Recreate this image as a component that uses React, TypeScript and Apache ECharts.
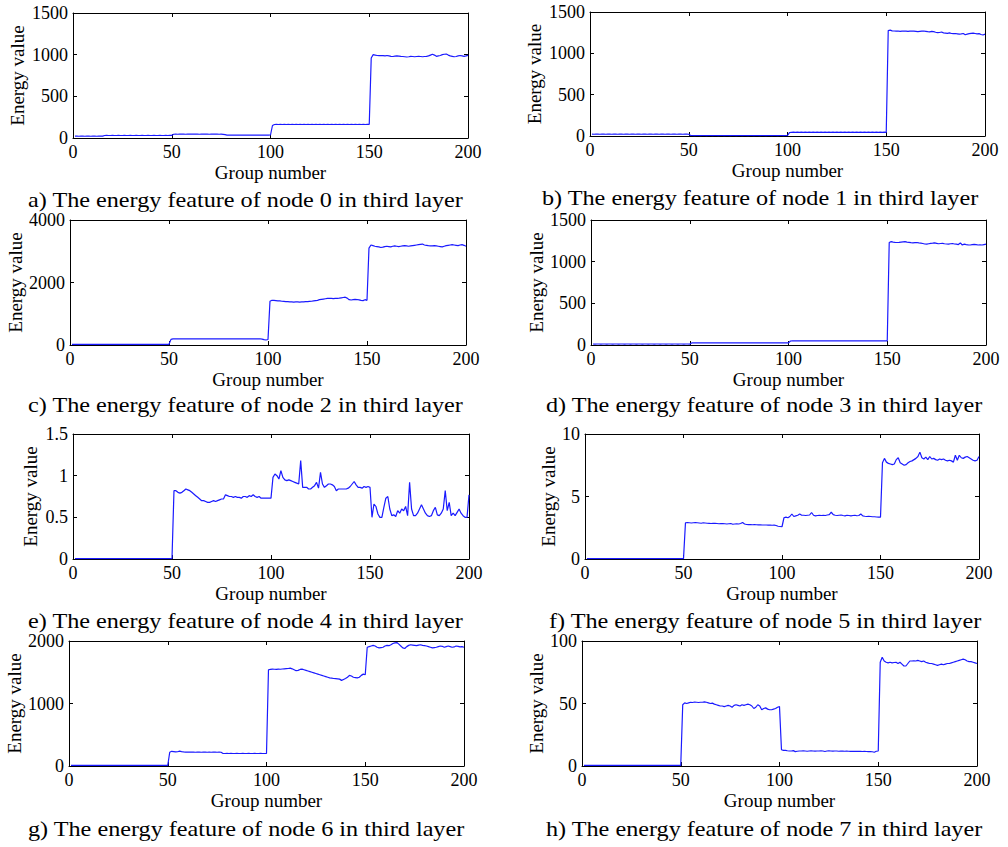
import React, { useEffect, useRef } from "react";
import * as echarts from "echarts";

const captions = [
  "a) The energy feature of node 0 in third layer",
  "b) The energy feature of node 1 in third layer",
  "c) The energy feature of node 2 in third layer",
  "d) The energy feature of node 3 in third layer",
  "e) The energy feature of node 4 in third layer",
  "f) The energy feature of node 5 in third layer",
  "g) The energy feature of node 6 in third layer",
  "h) The energy feature of node 7 in third layer",
];

const yMax = [1500, 1500, 4000, 1500, 1.5, 10, 2000, 100];
const yStep = [500, 500, 2000, 500, 0.5, 5, 1000, 50];

const node0 = [
  22,22,21,22,22,21,22,22,21,22,
  22,21,22,22,22,30,31,30,30,31,
  30,30,31,30,30,31,30,30,31,30,
  30,31,30,30,31,30,30,31,30,30,
  31,30,30,31,30,30,31,30,31,32,
  45,46,45,46,47,46,45,46,47,46,
  46,47,46,45,46,47,46,46,45,46,
  46,47,46,45,46,44,40,35,35,34,
  35,35,34,35,35,34,35,35,34,35,
  35,34,35,35,34,35,35,34,35,36,
  150,162,163,162,163,162,163,162,163,162,
  163,162,163,162,163,162,163,162,163,162,
  163,162,163,162,163,162,163,162,163,162,
  163,162,163,162,163,162,163,162,163,162,
  163,162,163,162,163,162,163,162,163,164,
  960,1000,995,990,988,990,988,985,990,985,
  980,978,982,985,983,980,978,975,972,975,
  980,978,975,978,980,978,975,978,980,985,
  995,1005,995,980,985,990,1000,1005,1008,995,
  985,980,975,978,985,990,985,980,985,992,
];

const node1 = [
  22,21,22,22,21,22,22,21,22,22,
  21,22,22,21,22,22,21,22,22,21,
  22,22,21,22,22,21,22,22,21,22,
  22,21,22,22,21,22,22,21,22,22,
  21,22,22,21,22,22,21,22,22,21,
  6,6,5,6,6,5,6,6,5,6,
  6,5,6,6,5,6,6,5,6,6,
  5,6,6,5,6,6,5,6,6,5,
  6,6,5,6,6,5,6,6,5,6,
  6,5,6,6,5,6,6,5,6,6,
  40,45,46,45,46,45,46,45,46,45,
  46,45,46,45,46,45,46,45,46,45,
  46,45,46,45,46,45,46,45,46,45,
  46,45,46,45,46,45,46,45,46,45,
  46,45,46,45,46,45,46,45,46,45,
  1275,1280,1272,1270,1268,1270,1266,1268,1270,1268,
  1265,1268,1270,1268,1265,1262,1265,1268,1270,1266,
  1262,1260,1265,1262,1255,1250,1252,1258,1248,1245,
  1242,1248,1240,1238,1240,1236,1232,1235,1240,1225,
  1232,1238,1242,1245,1240,1235,1238,1228,1222,1232,
];

const node2 = [
  22,21,22,22,21,22,22,21,22,22,
  21,22,22,21,22,22,21,22,22,21,
  22,22,21,22,22,21,22,22,21,22,
  22,21,22,22,21,22,22,21,22,22,
  21,22,22,21,22,22,21,22,22,21,
  180,195,198,196,197,198,196,197,198,196,
  197,198,196,197,198,196,197,198,196,197,
  198,196,197,198,196,197,198,196,197,198,
  196,197,198,196,197,198,196,197,198,196,
  197,198,196,197,198,200,190,170,160,175,
  1400,1430,1425,1420,1415,1410,1400,1395,1390,1385,
  1380,1378,1375,1378,1380,1375,1378,1380,1385,1390,
  1395,1400,1410,1420,1430,1450,1460,1470,1480,1490,
  1495,1490,1485,1490,1495,1500,1510,1520,1530,1500,
  1450,1440,1450,1460,1455,1445,1430,1420,1450,1430,
  3100,3200,3180,3160,3150,3140,3120,3130,3150,3160,
  3150,3140,3160,3170,3160,3150,3160,3170,3180,3170,
  3160,3170,3180,3190,3200,3210,3220,3230,3200,3190,
  3180,3175,3170,3180,3170,3160,3150,3140,3160,3180,
  3190,3200,3210,3200,3190,3180,3200,3210,3190,3160,
];

const node3 = [
  12,11,12,12,11,12,12,11,12,12,
  11,12,12,11,12,12,11,12,12,11,
  12,12,11,12,12,11,12,12,11,12,
  12,11,12,12,11,12,12,11,12,12,
  11,12,12,11,12,12,11,12,12,11,
  25,26,25,26,25,26,25,26,25,26,
  25,26,25,26,25,26,25,26,25,26,
  25,26,25,26,25,26,25,26,25,26,
  25,26,25,26,25,26,25,26,25,26,
  25,26,25,26,25,26,25,26,25,26,
  48,50,51,50,51,50,51,50,51,50,
  51,50,51,50,51,50,51,50,51,50,
  51,50,51,50,51,50,51,50,51,50,
  51,50,51,50,51,50,51,50,51,50,
  51,50,51,50,51,50,51,50,51,50,
  1230,1240,1235,1232,1230,1232,1235,1238,1240,1235,
  1232,1228,1225,1228,1230,1225,1222,1218,1212,1210,
  1215,1220,1222,1225,1220,1215,1218,1220,1215,1212,
  1210,1215,1218,1212,1210,1205,1225,1200,1210,1205,
  1202,1200,1205,1208,1205,1200,1202,1200,1205,1210,
];

const node4 = [
  0.005,0.005,0.005,0.005,0.005,0.005,0.005,0.005,0.005,0.005,
  0.005,0.005,0.005,0.005,0.005,0.005,0.005,0.005,0.005,0.005,
  0.005,0.005,0.005,0.005,0.005,0.005,0.005,0.005,0.005,0.005,
  0.005,0.005,0.005,0.005,0.005,0.005,0.005,0.005,0.005,0.005,
  0.005,0.005,0.005,0.005,0.005,0.005,0.005,0.005,0.005,0.005,
  0.82,0.82,0.80,0.79,0.80,0.82,0.84,0.83,0.82,0.80,
  0.78,0.76,0.74,0.72,0.70,0.70,0.69,0.68,0.68,0.69,
  0.70,0.69,0.70,0.71,0.72,0.72,0.77,0.76,0.75,0.75,
  0.74,0.75,0.74,0.74,0.73,0.75,0.75,0.74,0.76,0.75,
  0.77,0.75,0.74,0.75,0.73,0.73,0.73,0.73,0.73,0.73,
  0.98,1.02,1.00,0.96,1.06,0.98,0.95,0.94,0.95,0.94,
  0.93,0.92,0.91,0.90,1.18,0.86,0.86,0.86,0.84,0.84,
  0.86,0.88,0.92,0.85,1.04,0.90,0.86,0.88,0.90,0.90,
  0.89,0.87,0.82,0.84,0.84,0.84,0.84,0.84,0.85,0.87,
  0.90,0.93,0.89,0.86,0.86,0.85,0.87,0.86,0.87,0.86,
  0.50,0.66,0.63,0.54,0.50,0.50,0.62,0.73,0.75,0.60,
  0.52,0.53,0.51,0.58,0.55,0.60,0.58,0.63,0.52,0.92,
  0.60,0.52,0.52,0.55,0.60,0.65,0.60,0.55,0.52,0.51,
  0.52,0.58,0.62,0.53,0.52,0.55,0.60,0.82,0.58,0.68,
  0.52,0.55,0.52,0.56,0.60,0.55,0.52,0.50,0.50,0.77,
];

const node5 = [
  0.03,0.03,0.03,0.03,0.03,0.03,0.03,0.03,0.03,0.03,
  0.03,0.03,0.03,0.03,0.03,0.03,0.03,0.03,0.03,0.03,
  0.03,0.03,0.03,0.03,0.03,0.03,0.03,0.03,0.03,0.03,
  0.03,0.03,0.03,0.03,0.03,0.03,0.03,0.03,0.03,0.03,
  0.03,0.03,0.03,0.03,0.03,0.03,0.03,0.03,0.03,0.03,
  2.90,2.92,2.90,2.88,2.90,2.92,2.90,2.88,2.86,2.90,
  2.88,2.86,2.85,2.84,2.85,2.86,2.84,2.82,2.84,2.83,
  2.82,2.80,2.82,2.84,2.78,2.80,2.82,2.80,2.84,2.92,
  2.80,2.76,2.75,2.75,2.74,2.75,2.74,2.73,2.74,2.72,
  2.72,2.72,2.71,2.72,2.70,2.71,2.68,2.62,2.60,2.58,
  3.30,3.35,3.30,3.40,3.60,3.40,3.45,3.50,3.60,3.50,
  3.50,3.48,3.50,3.52,3.72,3.50,3.45,3.48,3.50,3.48,
  3.50,3.48,3.52,3.55,3.75,3.55,3.50,3.48,3.50,3.52,
  3.48,3.45,3.50,3.48,3.45,3.48,3.50,3.46,3.48,3.60,
  3.45,3.42,3.40,3.42,3.40,3.38,3.38,3.36,3.35,3.35,
  7.70,8.05,7.75,7.65,7.60,7.55,7.60,7.95,8.10,7.70,
  7.60,7.50,7.55,7.70,7.80,7.85,7.95,8.05,8.20,8.55,
  8.10,8.00,8.15,7.95,8.20,8.00,8.05,7.95,7.90,8.00,
  7.95,8.00,7.90,7.85,7.90,7.85,7.75,8.30,7.90,8.30,
  8.10,8.05,8.15,8.20,8.10,8.00,7.90,7.85,7.90,8.20,
];

const node6 = [
  10,10,10,10,10,10,10,10,10,10,
  10,10,10,10,10,10,10,10,10,10,
  10,10,10,10,10,10,10,10,10,10,
  10,10,10,10,10,10,10,10,10,10,
  10,10,10,10,10,10,10,10,10,10,
  220,235,230,225,228,238,230,225,222,222,
  222,221,222,220,221,222,220,221,222,220,
  221,220,222,221,220,221,220,200,200,201,
  200,201,200,200,201,200,200,201,200,200,
  201,200,200,201,200,200,201,200,200,201,
  1540,1545,1550,1548,1545,1550,1548,1552,1555,1558,
  1560,1565,1555,1540,1525,1530,1545,1550,1540,1530,
  1520,1510,1500,1490,1480,1470,1460,1450,1440,1430,
  1420,1410,1405,1400,1398,1395,1390,1370,1385,1400,
  1420,1450,1440,1420,1415,1410,1420,1450,1470,1460,
  1900,1910,1920,1930,1920,1900,1890,1895,1900,1920,
  1930,1925,1940,1960,1970,1975,1950,1920,1890,1880,
  1910,1930,1940,1935,1930,1925,1935,1940,1930,1925,
  1920,1910,1900,1890,1895,1900,1910,1920,1915,1900,
  1910,1920,1910,1900,1905,1920,1915,1905,1910,1900,
];

const node7 = [
  0.5,0.5,0.5,0.5,0.5,0.5,0.5,0.5,0.5,0.5,
  0.5,0.5,0.5,0.5,0.5,0.5,0.5,0.5,0.5,0.5,
  0.5,0.5,0.5,0.5,0.5,0.5,0.5,0.5,0.5,0.5,
  0.5,0.5,0.5,0.5,0.5,0.5,0.5,0.5,0.5,0.5,
  0.5,0.5,0.5,0.5,0.5,0.5,0.5,0.5,0.5,0.5,
  49,50.5,50,50.5,51,50.8,51.2,51,50.8,51,
  51,51.3,51,50.5,50,50.3,49.5,49,48.5,48,
  48,47.5,48,48.5,48,47,48.5,49,48.5,48,
  49,48.5,49,49.5,49,48,46,47,49,48,
  45,46,46.5,45.5,45,45,45.5,46,47,47.5,
  13,12.5,12.5,12.2,12,12,12.3,11.5,11.8,12,
  12,12.2,12,11.8,12,12.1,12,11.9,12,12,
  12.1,12,11.6,12,12.2,12,11.9,12,12,11.8,
  11.9,12,11.8,11.9,11.8,11.7,11.8,11.7,11.8,11.7,
  11.7,11.6,11.7,11.6,11.5,11.5,11.4,11,11.8,12,
  83,87,84,83,82.5,83,82.5,82.8,83,82,
  83,81.5,80,80,82,84,84,84.2,84,84.5,
  84,83.5,84,83,82.5,82,82,81.5,81,80.5,
  81,81.5,81,81.5,82,82,82.5,83,83.5,84,
  84.5,85,85.5,85,84,83.5,83.5,83,82.5,82,
];

const seriesValues = [node0, node1, node2, node3, node4, node5, node6, node7];

// layout: [left, top, width, height, yNameGap, captionX, captionY]
const layouts = [
  [73, 13, 395, 125, 46, 28, 199],
  [590, 12, 395, 124, 46, 542, 197],
  [70, 220, 396, 125, 43, 28, 404],
  [591, 220, 395, 125, 45, 546, 404],
  [73, 434, 396, 125, 33, 28, 620],
  [585, 434, 394, 125, 26, 549, 620],
  [69, 641, 395, 125, 45, 28, 828],
  [582, 641, 395, 125, 36, 546, 828],
];

const FONT = "Liberation Serif";

export default function App() {
  const ref = useRef<HTMLDivElement>(null);
  useEffect(() => {
    if (!ref.current) return;
    const chart = echarts.init(ref.current, undefined, { renderer: "svg" });
    const grids: any[] = [];
    const xAxes: any[] = [];
    const yAxes: any[] = [];
    const series: any[] = [];
    const graphics: any[] = [];
    const lineStyle = { color: "#000", width: 1 };
    const fmt = (v: number) => String(v);
    layouts.forEach((l, i) => {
      const [left, top, width, height, yGap, cx, cy] = l;
      grids.push({ left, top, width, height, containLabel: false });
      xAxes.push({
        type: "value", gridIndex: i, position: "bottom", min: 0, max: 200, interval: 50,
        axisLine: { show: true, onZero: false, lineStyle },
        axisTick: { show: true, inside: true, length: 4, lineStyle },
        axisLabel: { show: true, margin: 5, color: "#000", fontFamily: FONT, fontSize: 18, formatter: fmt },
        splitLine: { show: false },
        name: "Group number", nameLocation: "middle", nameGap: 25,
        nameTextStyle: { color: "#000", fontFamily: FONT, fontSize: 19 },
      });
      xAxes.push({
        type: "value", gridIndex: i, position: "top", min: 0, max: 200, interval: 50,
        axisLine: { show: true, onZero: false, lineStyle },
        axisTick: { show: true, inside: true, length: 4, lineStyle },
        axisLabel: { show: false },
        splitLine: { show: false },
      });
      yAxes.push({
        type: "value", gridIndex: i, position: "left", min: 0, max: yMax[i], interval: yStep[i],
        axisLine: { show: true, onZero: false, lineStyle },
        axisTick: { show: true, inside: true, length: 4, lineStyle },
        axisLabel: { show: true, margin: 5, color: "#000", fontFamily: FONT, fontSize: 18, formatter: fmt },
        splitLine: { show: false },
        name: "Energy value", nameLocation: "middle", nameGap: yGap, nameRotate: 90,
        nameTextStyle: { color: "#000", fontFamily: FONT, fontSize: 19 },
      });
      yAxes.push({
        type: "value", gridIndex: i, position: "right", min: 0, max: yMax[i], interval: yStep[i],
        axisLine: { show: true, onZero: false, lineStyle },
        axisTick: { show: true, inside: true, length: 4, lineStyle },
        axisLabel: { show: false },
        splitLine: { show: false },
      });
      series.push({
        type: "line",
        xAxisIndex: 2 * i,
        yAxisIndex: 2 * i,
        showSymbol: false,
        symbol: "none",
        lineStyle: { color: "#1a1aff", width: 1.2 },
        data: seriesValues[i].map((v, k) => [k + 1, v]),
      });
      graphics.push({
        type: "text",
        x: cx,
        y: cy,
        scaleX: 1.1,
        style: {
          text: captions[i],
          fill: "#000",
          font: `22px ${FONT}`,
          textAlign: "left",
          textVerticalAlign: "middle",
        },
      });
    });
    chart.setOption({
      animation: false,
      backgroundColor: "#fff",
      grid: grids,
      xAxis: xAxes,
      yAxis: yAxes,
      series,
      graphic: graphics,
    });
    return () => chart.dispose();
  }, []);
  return (
    <div
      ref={ref}
      style={{ position: "absolute", left: 0, top: 0, width: 1008, height: 847 }}
    />
  );
}
